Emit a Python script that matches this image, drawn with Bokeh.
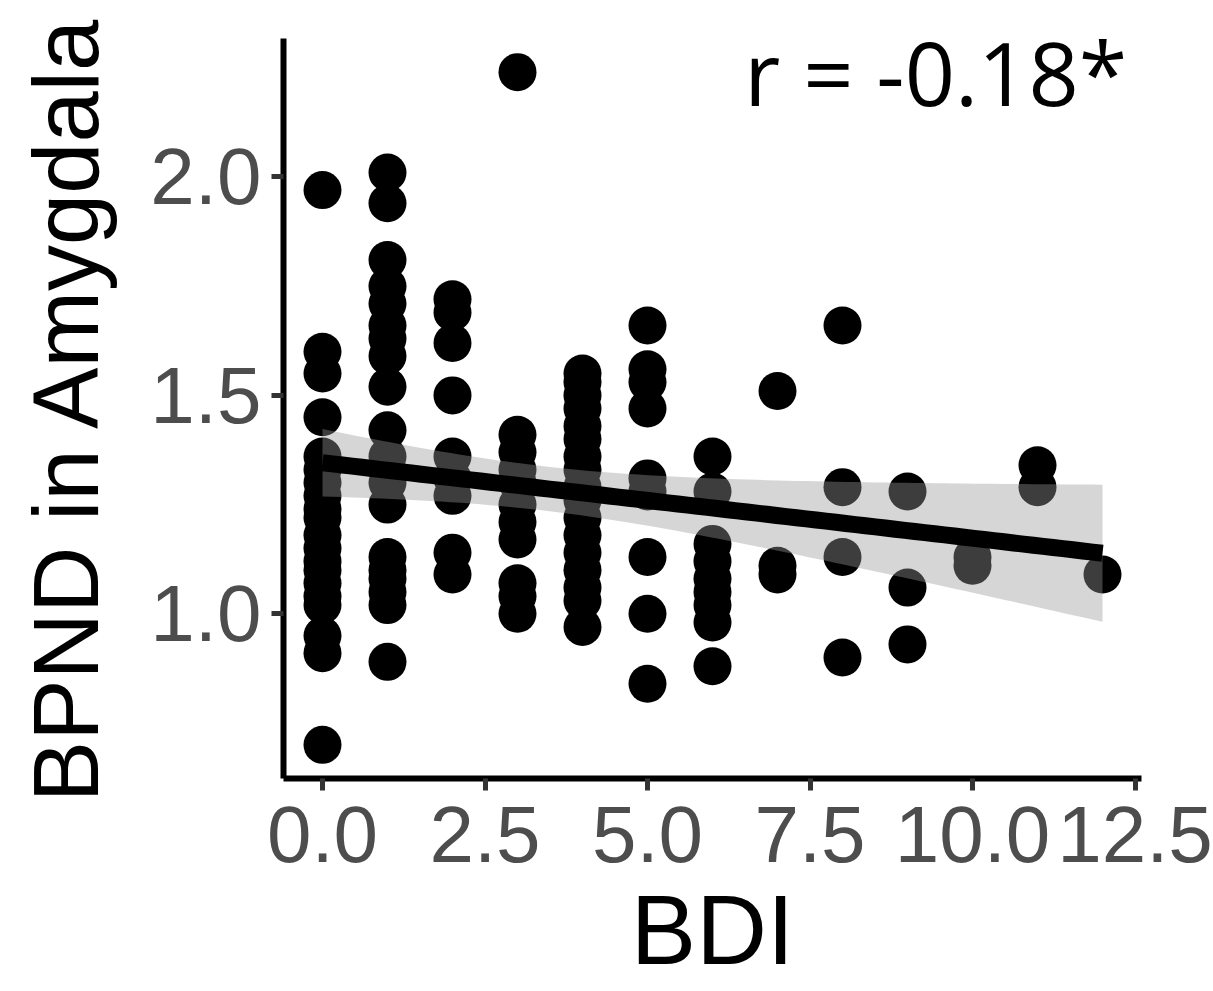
import numpy as np
from bokeh.plotting import figure
from bokeh.models import Range1d, FixedTicker, Label, CustomJSTickFormatter
from bokeh.embed import file_html
from bokeh.resources import INLINE

# BPND in the amygdala, grouped by BDI score
bdi_levels = [0, 1, 2, 3, 4, 5, 6, 7, 8, 9, 10, 11, 12]
bpnd_by_bdi = [
    [1.97, 1.60, 1.55, 1.45, 1.36, 1.33, 1.30, 1.27, 1.24, 1.22, 1.18, 1.15, 1.12, 1.10, 1.07, 1.04, 1.02, 0.95, 0.91, 0.70],
    [2.01, 1.94, 1.81, 1.75, 1.71, 1.66, 1.63, 1.59, 1.52, 1.42, 1.36, 1.33, 1.30, 1.25, 1.13, 1.10, 1.08, 1.05, 1.02, 0.89],
    [1.72, 1.69, 1.62, 1.50, 1.36, 1.31, 1.27, 1.14, 1.09],
    [2.24, 1.41, 1.37, 1.33, 1.30, 1.25, 1.21, 1.17, 1.07, 1.04, 1.00],
    [1.55, 1.53, 1.50, 1.47, 1.43, 1.40, 1.36, 1.33, 1.29, 1.26, 1.22, 1.18, 1.14, 1.10, 1.06, 1.03, 0.97],
    [1.66, 1.56, 1.53, 1.47, 1.31, 1.28, 1.13, 1.00, 0.84],
    [1.36, 1.28, 1.16, 1.12, 1.08, 1.05, 1.02, 0.98, 0.88],
    [1.51, 1.11, 1.09],
    [1.66, 1.29, 1.13, 0.90],
    [1.28, 1.06, 0.93],
    [1.13, 1.11],
    [1.34, 1.29],
    [1.09],
]
x_ticks = [0.0, 2.5, 5.0, 7.5, 10.0, 12.5]
y_ticks = [1.0, 1.5, 2.0]
r_label = "r = -0.18*"

bdi = np.array([b for b, vals in zip(bdi_levels, bpnd_by_bdi) for _ in vals], dtype=float)
bpnd = np.array([v for vals in bpnd_by_bdi for v in vals], dtype=float)

# ordinary least squares fit with a 95% confidence band
n = len(bdi)
slope, intercept = np.polyfit(bdi, bpnd, 1)
resid = bpnd - (intercept + slope * bdi)
s = np.sqrt(np.sum(resid ** 2) / (n - 2))
sxx = np.sum((bdi - bdi.mean()) ** 2)
t975 = 1.983
xs = np.linspace(bdi.min(), bdi.max(), 80)
fit = intercept + slope * xs
se = s * np.sqrt(1.0 / n + (xs - bdi.mean()) ** 2 / sxx)
lo, hi = fit - t975 * se, fit + t975 * se

# 5% expansion of the data ranges
xpad = 0.05 * (bdi.max() - bdi.min())
ypad = 0.05 * (bpnd.max() - bpnd.min())

p = figure(
    frame_width=858, frame_height=740,
    min_border_left=283, min_border_right=72, min_border_top=38, min_border_bottom=213,
    x_range=Range1d(bdi.min() - xpad, bdi.max() + xpad),
    y_range=Range1d(bpnd.min() - ypad, bpnd.max() + ypad),
    output_backend="svg", toolbar_location=None,
    background_fill_color="white", border_fill_color="white",
)
p.outline_line_color = None
p.grid.visible = False

p.scatter(bdi, bpnd, size=38, fill_color="black", line_color=None)
p.varea(x=xs, y1=lo, y2=hi, fill_color="#999999", fill_alpha=0.4)
p.line(xs, fit, line_color="black", line_width=17)

fmt = CustomJSTickFormatter(code="return tick.toFixed(1);")
for ax, ticks in ((p.xaxis[0], x_ticks), (p.yaxis[0], y_ticks)):
    ax.ticker = FixedTicker(ticks=ticks)
    ax.formatter = fmt
    ax.minor_tick_line_color = None
    ax.major_tick_in = 0
    ax.major_tick_out = 12
    ax.major_tick_line_color = "#333333"
    ax.major_tick_line_width = 5
    ax.axis_line_color = "black"
    ax.axis_line_width = 6
    ax.major_label_text_font = "Liberation Sans"
    ax.major_label_text_font_size = "80px"
    ax.major_label_text_color = "#4d4d4d"
    ax.axis_label_text_font = "Liberation Sans"
    ax.axis_label_text_font_style = "normal"
    ax.axis_label_text_color = "black"

p.xaxis[0].major_label_standoff = 16
p.yaxis[0].major_label_standoff = 10
p.xaxis[0].axis_label = "BDI"
p.yaxis[0].axis_label = "BPND in Amygdala"
p.xaxis[0].axis_label_text_font_size = "98px"
p.yaxis[0].axis_label_text_font_size = "92px"
p.xaxis[0].axis_label_standoff = 10
p.yaxis[0].axis_label_standoff = 30

p.add_layout(Label(
    x=12.38, y=2.24, text=r_label, text_align="right", text_baseline="alphabetic",
    text_font="Open Sans", text_font_size="88px", text_color="black",
))

open("out.html", "w").write(file_html(p, INLINE))
